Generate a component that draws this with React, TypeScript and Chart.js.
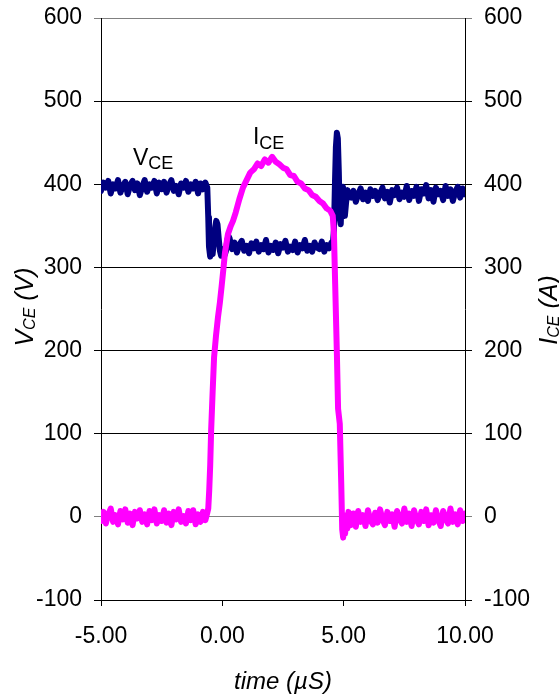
import React, { useEffect, useRef } from "react";
import { Chart, registerables } from "chart.js";
Chart.register(...registerables);

const FONT = '"Liberation Sans", Arial, Helvetica, sans-serif';

const xTickValues = [-5, 0, 5, 10];
const yTickValues = [-100, 0, 100, 200, 300, 400, 500, 600];

const vceTime = [
  -5.0, -4.9, -4.8, -4.7, -4.6, -4.5, -4.4, -4.3, -4.2, -4.1, -4.0, -3.9, -3.8, -3.7, -3.6, -3.5, -3.4, -3.3, -3.2, -3.1,
  -3.0, -2.9, -2.8, -2.7, -2.6, -2.5, -2.4, -2.3, -2.2, -2.1, -2.0, -1.9, -1.8, -1.7, -1.6, -1.5, -1.4, -1.3, -1.2, -1.1,
  -1.0, -0.9, -0.8, -0.7,
  -0.62, -0.58, -0.55, -0.5, -0.45, -0.4, -0.35, -0.3, -0.25, -0.2, -0.15, -0.1, -0.05, 0.0, 0.05, 0.1, 0.15, 0.2, 0.25, 0.3, 0.35,
  0.4, 0.5, 0.6, 0.7, 0.8, 0.9, 1.0, 1.1, 1.2, 1.3, 1.4, 1.5, 1.6, 1.7, 1.8, 1.9, 2.0, 2.1, 2.2, 2.3, 2.4,
  2.5, 2.6, 2.7, 2.8, 2.9, 3.0, 3.1, 3.2, 3.3, 3.4, 3.5, 3.6, 3.7, 3.8, 3.9, 4.0, 4.1, 4.2, 4.3, 4.4, 4.5,
  4.55, 4.6, 4.64, 4.68, 4.72, 4.76, 4.8, 4.84, 4.88, 4.92, 4.97, 5.01, 5.05, 5.1, 5.16, 5.22,
  5.3, 5.4, 5.5, 5.6, 5.7, 5.8, 5.9, 6.0, 6.1, 6.2, 6.3, 6.4, 6.5, 6.6, 6.7, 6.8, 6.9, 7.0, 7.1, 7.2, 7.3, 7.4,
  7.5, 7.6, 7.7, 7.8, 7.9, 8.0, 8.1, 8.2, 8.3, 8.4, 8.5, 8.6, 8.7, 8.8, 8.9, 9.0, 9.1, 9.2, 9.3, 9.4, 9.5, 9.6,
  9.7, 9.8, 9.9, 10.0,
];

const vceValues = [
  392, 402, 396, 404, 389, 400, 395, 405, 390, 398, 403, 388, 399, 404, 393, 401, 387, 397, 405, 391,
  400, 396, 404, 389, 402, 394, 403, 390, 399, 405, 392, 398, 388, 401, 396, 404, 391, 400, 395, 403,
  389, 401, 394, 402,
  396, 360, 325, 313, 318, 316, 330, 348, 356, 352, 335, 320, 314, 316, 322, 315, 320, 332, 338, 335, 328,
  322, 330, 318, 327, 332, 320, 326, 317, 329, 323, 331, 319, 327, 322, 333, 318, 326, 321, 330, 317, 328,
  324, 332, 319, 325, 321, 331, 318, 327, 323, 333, 320, 326, 319, 330, 324, 322, 331, 319, 327, 323, 330,
  328, 345, 400, 445, 462, 455, 415, 360, 352, 388, 397, 380, 362, 378, 393, 385,
  384, 392, 379, 388, 395, 382, 390, 380, 394, 386, 392, 381, 389, 396, 383, 391, 378, 393, 387, 396, 382, 390,
  385, 398, 381, 392, 386, 397, 380, 394, 389, 399, 383, 393, 379, 396, 388, 392, 381, 398, 386, 394, 380, 391,
  397, 384, 395, 388,
];

const iceTime = [
  -5.0, -4.9, -4.8, -4.7, -4.6, -4.5, -4.4, -4.3, -4.2, -4.1, -4.0, -3.9, -3.8, -3.7, -3.6, -3.5, -3.4, -3.3, -3.2, -3.1,
  -3.0, -2.9, -2.8, -2.7, -2.6, -2.5, -2.4, -2.3, -2.2, -2.1, -2.0, -1.9, -1.8, -1.7, -1.6, -1.5, -1.4, -1.3, -1.2, -1.1,
  -1.0, -0.9, -0.8, -0.7,
  -0.62, -0.58, -0.54, -0.5, -0.46, -0.4, -0.34, -0.26, -0.18, -0.1, -0.03, 0.05, 0.11, 0.23, 0.35, 0.44, 0.55, 0.7, 0.85,
  1.0, 1.15, 1.3, 1.45, 1.6, 1.75, 1.9, 2.05, 2.2, 2.35, 2.5, 2.65, 2.8, 2.95, 3.1, 3.25, 3.4, 3.55, 3.7, 3.85, 4.0,
  4.15, 4.3, 4.45, 4.55, 4.6, 4.65, 4.72, 4.77, 4.84, 4.9, 4.94, 4.98, 5.02, 5.06, 5.1, 5.15,
  5.2, 5.3, 5.4, 5.5, 5.6, 5.7, 5.8, 5.9, 6.0, 6.1, 6.2, 6.3, 6.4, 6.5, 6.6, 6.7, 6.8, 6.9, 7.0, 7.1, 7.2, 7.3, 7.4,
  7.5, 7.6, 7.7, 7.8, 7.9, 8.0, 8.1, 8.2, 8.3, 8.4, 8.5, 8.6, 8.7, 8.8, 8.9, 9.0, 9.1, 9.2, 9.3, 9.4, 9.5, 9.6,
  9.7, 9.8, 9.9, 10.0,
];

const iceValues = [
  -5, 6, -8, 3, 10, -6, 2, -9, 7, -3, 9, -7, 4, -10, 6, -2, 8, -6, 3, -9,
  7, -4, 9, -8, 2, -5, 8, -7, 4, -10, 6, -3, 9, -6, 1, -8, 7, -4, 8, -9,
  3, -6, 6, -4,
  5, 10, 32, 62, 105, 150, 192, 218, 240, 258, 277, 300, 318, 340, 350, 356, 366, 382, 396,
  405, 414, 418, 425, 422, 430, 426, 433, 427, 424, 420, 418, 411, 410, 403, 401, 395, 393, 387, 385, 380,
  377, 371, 368, 362, 340, 280, 197, 130, 112, 40, -15, -25, -6, -20, 2, -14,
  6, -10, 4, -12, 7, -6, 2, -11, 8, -4, -9, 5, -7, 9, -3, -10, 6, -5, 3, -12, 7, -2, -8,
  10, -6, 4, -11, 8, -3, -9, 6, -5, 9, -10, 2, -7, 8, -4, -11, 7, -2, -8, 10, -6, 3,
  -9, 8, -5, 4,
];

const NAVY = "#000080";
const MAGENTA = "#FF00FF";

function drawSubText(
  ctx: CanvasRenderingContext2D,
  x: number,
  y: number,
  main: string,
  sub: string,
  rest: string,
  size: number,
  subSize: number,
  drop: number,
  italic: boolean,
  center: boolean
) {
  const st = italic ? "italic " : "";
  const fMain = `${st}${size}px ${FONT}`;
  const fSub = `${st}${subSize}px ${FONT}`;
  ctx.font = fMain;
  const w1 = ctx.measureText(main).width;
  const w3 = rest ? ctx.measureText(rest).width : 0;
  ctx.font = fSub;
  const w2 = ctx.measureText(sub).width;
  const sx = center ? x - (w1 + w2 + w3) / 2 : x;
  ctx.textAlign = "left";
  ctx.textBaseline = "alphabetic";
  ctx.font = fMain;
  ctx.fillText(main, sx, y);
  ctx.font = fSub;
  ctx.fillText(sub, sx + w1, y + drop);
  if (rest) {
    ctx.font = fMain;
    ctx.fillText(rest, sx + w1 + w2, y);
  }
}

const textPlugin = {
  id: "textPlugin",
  afterDraw(chart: any) {
    const ctx: CanvasRenderingContext2D = chart.ctx;
    const xs = chart.scales.x;
    const ys = chart.scales.y;
    const ca = chart.chartArea;
    ctx.save();
    ctx.fillStyle = "#000";
    drawSubText(ctx, xs.getPixelForValue(-3.68), ys.getPixelForValue(423), "V", "CE", "", 23, 18, 4, false, false);
    drawSubText(ctx, xs.getPixelForValue(1.26), ys.getPixelForValue(449), "I", "CE", "", 23, 18, 5, false, false);
    ctx.font = `italic 24px ${FONT}`;
    ctx.textAlign = "center";
    ctx.textBaseline = "alphabetic";
    ctx.fillText("time (\u00b5S)", (ca.left + ca.right) / 2, 689);
    ctx.save();
    ctx.translate(33, (ca.top + ca.bottom) / 2 - 2);
    ctx.rotate(-Math.PI / 2);
    drawSubText(ctx, 0, 0, "V", "CE", " (V)", 25, 16, 2, true, true);
    ctx.restore();
    ctx.save();
    ctx.translate(557, (ca.top + ca.bottom) / 2 + 1);
    ctx.rotate(-Math.PI / 2);
    drawSubText(ctx, 0, 0, "I", "CE", " (A)", 25, 16, 2, true, true);
    ctx.restore();
    ctx.restore();
  },
};

const gridColor = (c: any) => {
  const v = c.tick ? c.tick.value : null;
  return v === 0 || v === 600 ? "#808080" : "#000000";
};

const fixVertical = (w: number) => (s: any) => {
  s.width = w;
  s.paddingTop = 0;
  s.paddingBottom = 0;
};

export default function App() {
  const ref = useRef<HTMLCanvasElement | null>(null);
  useEffect(() => {
    if (!ref.current) return;
    const chart = new Chart(ref.current, {
      type: "line",
      data: {
        datasets: [
          {
            label: "ICE",
            data: iceTime.map((t, i) => ({ x: t, y: iceValues[i] })),
            borderColor: MAGENTA,
            backgroundColor: MAGENTA,
            borderWidth: 6,
            pointRadius: 0,
            tension: 0,
            borderJoinStyle: "round",
            borderCapStyle: "round",
            yAxisID: "y2",
          },
          {
            label: "VCE",
            data: vceTime.map((t, i) => ({ x: t, y: vceValues[i] })),
            borderColor: NAVY,
            backgroundColor: NAVY,
            borderWidth: 6,
            pointRadius: 0,
            tension: 0,
            borderJoinStyle: "round",
            borderCapStyle: "round",
            yAxisID: "y",
          },
        ],
      },
      options: {
        animation: false,
        responsive: false,
        devicePixelRatio: 1,
        layout: { padding: { top: 18, left: 0, right: 0, bottom: 0 } },
        plugins: { legend: { display: false }, tooltip: { enabled: false }, title: { display: false } },
        scales: {
          x: {
            type: "linear",
            min: -5,
            max: 10,
            afterBuildTicks: (s: any) => {
              s.ticks = xTickValues.map((v) => ({ value: v }));
            },
            afterFit: (s: any) => {
              s.height = 98;
            },
            ticks: {
              autoSkip: false,
              maxRotation: 0,
              padding: 17,
              color: "#000",
              font: { family: FONT, size: 23 },
              callback: (v: any) => Number(v).toFixed(2),
            },
            grid: { drawOnChartArea: false, drawTicks: true, tickLength: 6, color: "#000" },
            border: { display: true, color: "#000", width: 1 },
          },
          y: {
            type: "linear",
            position: "left",
            min: -100,
            max: 600,
            afterBuildTicks: (s: any) => {
              s.ticks = yTickValues.map((v) => ({ value: v }));
            },
            afterFit: fixVertical(101),
            ticks: {
              autoSkip: false,
              padding: 12,
              color: "#000",
              font: { family: FONT, size: 23 },
              callback: (v: any) => String(v),
            },
            grid: { drawOnChartArea: true, drawTicks: true, tickLength: 7, color: gridColor, tickColor: gridColor, lineWidth: 1 },
            border: { display: true, color: "#000", width: 1 },
          },
          y2: {
            type: "linear",
            position: "right",
            min: -100,
            max: 600,
            afterBuildTicks: (s: any) => {
              s.ticks = yTickValues.map((v) => ({ value: v }));
            },
            afterFit: fixVertical(94),
            ticks: {
              autoSkip: false,
              padding: 12,
              color: "#000",
              font: { family: FONT, size: 23 },
              callback: (v: any) => String(v),
            },
            grid: { drawOnChartArea: false, drawTicks: true, tickLength: 7, color: gridColor, tickColor: gridColor },
            border: { display: true, color: "#000", width: 1 },
          },
        },
      },
      plugins: [textPlugin],
    } as any);
    return () => chart.destroy();
  }, []);
  return (
    <div style={{ position: "absolute", left: 0, top: 0, width: 559, height: 698, background: "#fff" }}>
      <canvas ref={ref} width={559} height={698} style={{ display: "block", width: 559, height: 698 }} />
    </div>
  );
}
